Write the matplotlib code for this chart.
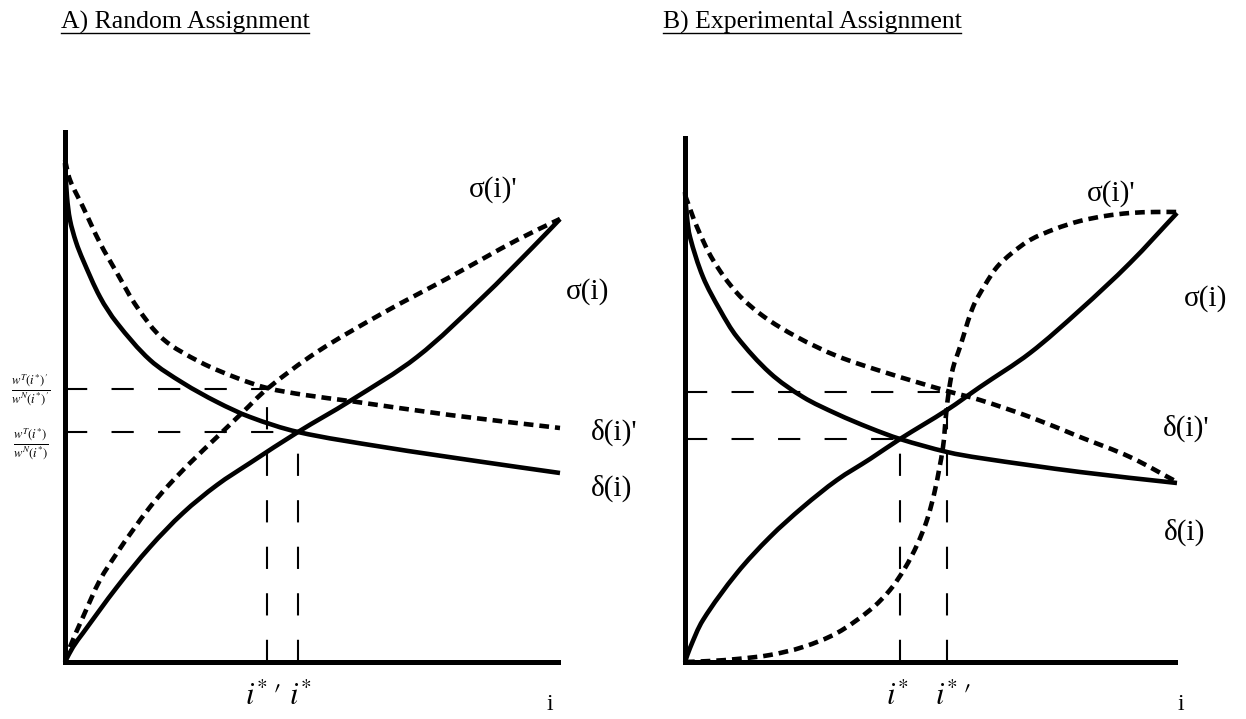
import matplotlib
matplotlib.use("Agg")
import numpy as np
import matplotlib.pyplot as plt
from matplotlib.lines import Line2D
from matplotlib.path import Path
from matplotlib.patches import PathPatch

plt.rcParams['font.family'] = ['Liberation Serif', 'DejaVu Serif']
plt.rcParams['mathtext.fontset'] = 'stix'
plt.rcParams['lines.scale_dashes'] = False

# ---------------- Data (x = i, y = value) ----------------
titles = ["A) Random Assignment", "B) Experimental Assignment"]
curve_labels = ["σ(i)'", "σ(i)", "δ(i)'", "δ(i)"]
axis_label = "i"
istar_lbl = r"$i^{*}$"
istar_p_lbl = r"$i^{*}\,\prime$"

# Panel A
a_delta_x = [0, 2, 5, 11, 18, 35, 52, 85, 118, 152, 185, 233, 318, 418, 495]
a_delta_y = [499, 465, 442, 420, 402, 365, 339, 302, 279, 260, 245, 230, 215, 200, 189]
a_delta_p_x = [0, 5, 18, 35, 52, 72, 98, 135, 172, 202, 240, 285, 385, 495]
a_delta_p_y = [502, 482, 455, 419, 389, 355, 323, 300, 284, 274, 267, 261, 247, 234]
a_sigma_x = [0, 8, 18, 52, 85, 118, 152, 185, 233, 285, 352, 418, 468, 495]
a_sigma_y = [0, 15, 29, 75, 115, 149, 177, 199, 230, 261, 305, 365, 415, 443]
a_sigma_p_x = [0, 5, 18, 35, 52, 68, 85, 102, 125, 152, 177, 202, 252, 318, 385, 452, 495]
a_sigma_p_y = [0, 15, 45, 82, 109, 132, 155, 175, 199, 225, 249, 273, 310, 349, 385, 422, 443]
a_istar, a_istar_p = 233, 202
a_ratio, a_ratio_p = 230, 273
a_yaxis_top, a_xaxis_right = 530, 493

# Panel B
b_delta_x = [0, 2, 5, 18, 35, 52, 85, 118, 152, 185, 215, 262, 295, 395, 492]
b_delta_y = [470, 445, 425, 385, 352, 325, 289, 265, 248, 234, 223, 210, 204, 190, 179]
b_delta_p_x = [0, 12, 28, 52, 78, 112, 152, 202, 262, 295, 345, 395, 445, 492]
b_delta_p_y = [467, 435, 402, 369, 346, 325, 306, 289, 271, 262, 245, 225, 205, 180]
b_sigma_x = [0, 5, 18, 52, 85, 118, 152, 185, 215, 262, 295, 345, 395, 445, 492]
b_sigma_y = [0, 14, 42, 89, 125, 155, 182, 203, 223, 252, 275, 309, 352, 399, 449]
b_sigma_p_x = [0, 25, 52, 85, 118, 152, 185, 205, 220, 232, 242, 250, 258, 261, 264,
               268, 275, 288, 300, 312, 327, 345, 370, 395, 420, 445, 470, 492]
b_sigma_p_y = [0, 1, 3, 7, 15, 29, 52, 72, 94, 117, 142, 172, 215, 247, 272,
               294, 315, 355, 377, 395, 409, 422, 433, 441, 446, 449, 450, 450]
b_istar, b_istar_p = 215, 262
b_ratio, b_ratio_p = 223, 270
b_yaxis_top, b_xaxis_right = 524, 490

# ---------------- Figure ----------------
W, H = 1246, 719
fig = plt.figure(figsize=(W / 100, H / 100), dpi=100)

thick = 3.3
axis_lw = 3.6
dash_thick = (0, (7.0, 4.3))
dash_thin = (0, (16.0, 17.5))


def smooth_path(xs, ys):
    """Smooth curve through the read points (tangent-based cubic Bezier)."""
    p = np.column_stack([xs, ys]).astype(float)
    n = len(p)
    tang = np.zeros_like(p)
    for i in range(n):
        a = p[max(i - 1, 0)]
        b = p[min(i + 1, n - 1)]
        d = b - a
        tang[i] = d / np.hypot(*d)
    verts = [p[0]]
    codes = [Path.MOVETO]
    for i in range(n - 1):
        L = np.hypot(*(p[i + 1] - p[i])) / 3.0
        verts += [p[i] + tang[i] * L, p[i + 1] - tang[i + 1] * L, p[i + 1]]
        codes += [Path.CURVE4] * 3
    return Path(verts, codes)


def make_panel(left_px, origin_px):
    ox, oy = origin_px
    ax = fig.add_axes([left_px / W, 0, 623 / W, 1])
    ax.set_xlim(left_px - ox, left_px + 623 - ox)
    ax.set_ylim(oy - H, oy)
    ax.patch.set_visible(False)
    for s in ['top', 'right']:
        ax.spines[s].set_visible(False)
    ax.set_xticks([])
    ax.set_yticks([])
    return ax


def curve(ax, xs, ys, dashed):
    pp = PathPatch(smooth_path(xs, ys), facecolor='none', edgecolor='black', lw=thick,
                   linestyle=dash_thick if dashed else '-', capstyle='butt',
                   joinstyle='round', zorder=3)
    ax.add_patch(pp)


def draw_panel(ax, sx, sy, spx, spy, dx, dy, dpx, dpy,
               istar, istar_p, ratio, ratio_p, ytop, xright):
    ax.spines['left'].set_position(('data', 0))
    ax.spines['bottom'].set_position(('data', 0))
    ax.spines['left'].set_bounds(0, ytop)
    ax.spines['bottom'].set_bounds(0, xright)
    for s in ['left', 'bottom']:
        ax.spines[s].set_linewidth(axis_lw)
        ax.spines[s].set_capstyle('projecting')
    thin = dict(color='black', lw=1.5, linestyle=dash_thin, dash_capstyle='butt')
    ax.plot([0, istar], [ratio, ratio], **thin)
    ax.plot([istar, istar], [0, ratio], **thin)
    ax.plot([0, istar_p], [ratio_p, ratio_p], **thin)
    ax.plot([istar_p, istar_p], [0, ratio_p], **thin)
    curve(ax, dx, dy, False)
    curve(ax, sx, sy, False)
    curve(ax, dpx, dpy, True)
    curve(ax, spx, spy, True)


axA = make_panel(0, (65, 662))
axB = make_panel(623, (685, 662))

draw_panel(axA, a_sigma_x, a_sigma_y, a_sigma_p_x, a_sigma_p_y,
           a_delta_x, a_delta_y, a_delta_p_x, a_delta_p_y,
           a_istar, a_istar_p, a_ratio, a_ratio_p, a_yaxis_top, a_xaxis_right)
draw_panel(axB, b_sigma_x, b_sigma_y, b_sigma_p_x, b_sigma_p_y,
           b_delta_x, b_delta_y, b_delta_p_x, b_delta_p_y,
           b_istar, b_istar_p, b_ratio, b_ratio_p, b_yaxis_top, b_xaxis_right)

lab_fs = 21
axA.text(428, 472, curve_labels[0], fontsize=lab_fs, ha='center', va='center')
axA.text(523, 370, curve_labels[1], fontsize=lab_fs, ha='center', va='center')
axA.text(549, 230, curve_labels[2], fontsize=lab_fs, ha='center', va='center')
axA.text(547, 174, curve_labels[3], fontsize=lab_fs, ha='center', va='center')
axB.text(426, 468, curve_labels[0], fontsize=lab_fs, ha='center', va='center')
axB.text(521, 363, curve_labels[1], fontsize=lab_fs, ha='center', va='center')
axB.text(501, 234, curve_labels[2], fontsize=lab_fs, ha='center', va='center')
axB.text(500, 130, curve_labels[3], fontsize=lab_fs, ha='center', va='center')

axA.text(485, -43, axis_label, fontsize=17, ha='center', va='center')
axB.text(496, -43, axis_label, fontsize=17, ha='center', va='center')

xt = dict(fontsize=22, ha='center', va='baseline')
axA.text(a_istar_p - 4, -43, istar_p_lbl, **xt)
axA.text(a_istar + 3, -43, istar_lbl, **xt)
axB.text(b_istar - 2, -43, istar_lbl, **xt)
axB.text(b_istar_p + 6, -43, istar_p_lbl, **xt)

axA.text(-34, a_ratio_p - 1, r"$\frac{w^{T}(i^{*})'}{w^{N}(i^{*})'}$", fontsize=13,
         ha='center', va='center')
axA.text(-34, a_ratio - 12, r"$\frac{w^{T}(i^{*})}{w^{N}(i^{*})}$", fontsize=13,
         ha='center', va='center')

title_objs = []
title_objs.append(fig.text(185 / W, 1 - 22 / H, titles[0], fontsize=18.5, ha='center', va='center'))
title_objs.append(fig.text(812 / W, 1 - 22 / H, titles[1], fontsize=18.5, ha='center', va='center'))
fig.canvas.draw()
r = fig.canvas.get_renderer()
for t in title_objs:
    bb = t.get_window_extent(renderer=r)
    yline = bb.y0 + 0.5
    fig.add_artist(Line2D([bb.x0 / W, bb.x1 / W], [yline / H, yline / H],
                          transform=fig.transFigure, color='black', lw=1.0))

fig.savefig("out.png", dpi=100)
